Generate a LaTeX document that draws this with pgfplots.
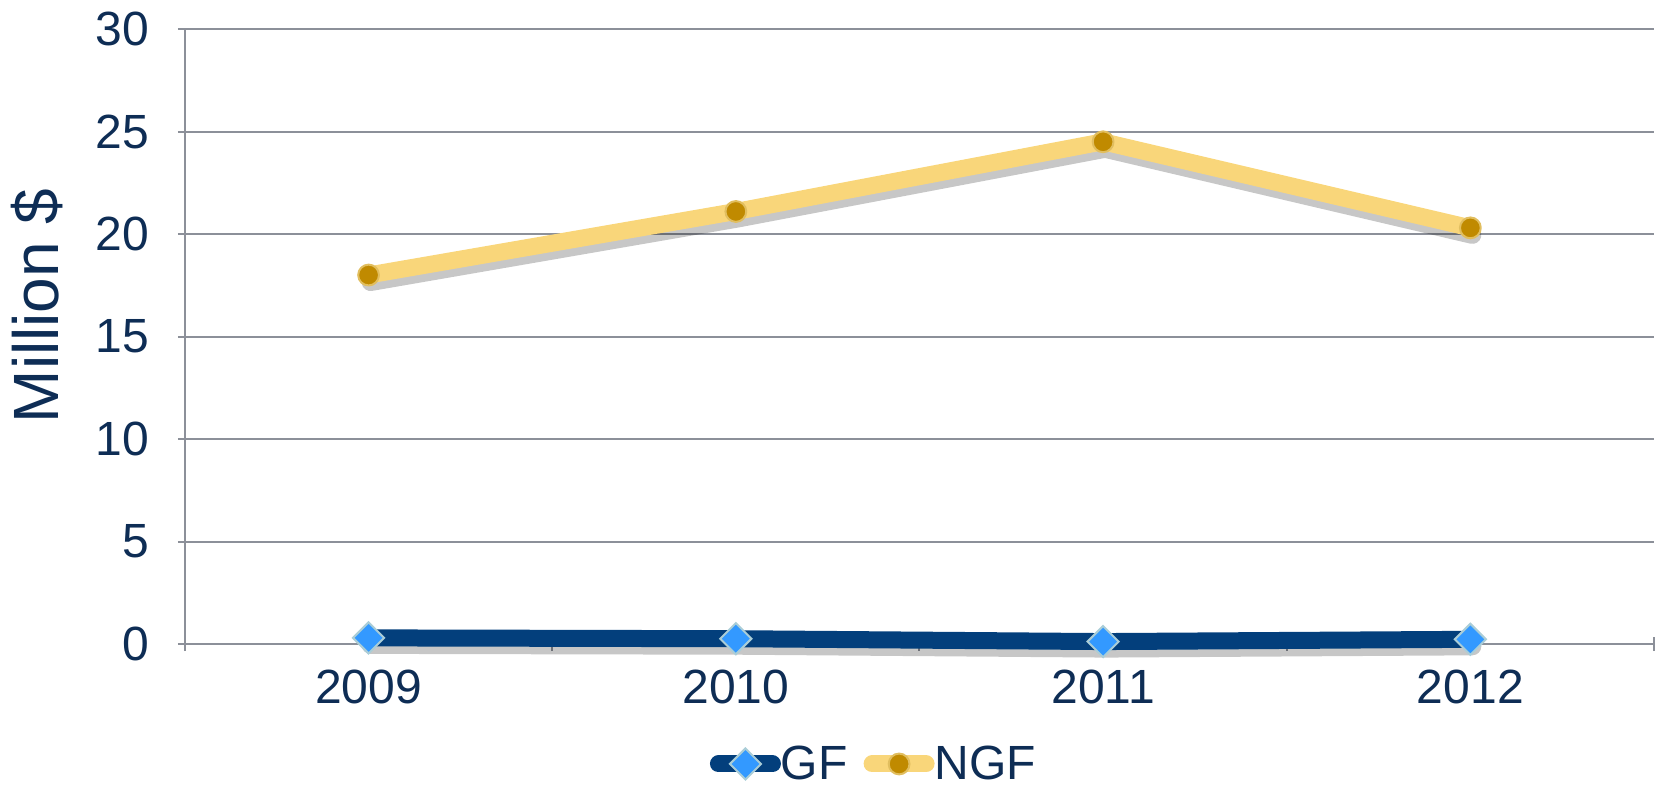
\documentclass[border=0pt]{standalone}
\usepackage{fontspec}
\setmainfont{Liberation Sans}
\usepackage{pgfplots}
\pgfplotsset{compat=1.18}

% colours
\definecolor{navytext}{RGB}{14,45,85}
\definecolor{gfline}{RGB}{3,63,124}
\definecolor{gfmark}{RGB}{51,153,255}
\definecolor{gfedge}{RGB}{170,205,215}
\definecolor{ngfline}{RGB}{249,214,122}
\definecolor{ngfmark}{RGB}{192,138,0}
\definecolor{ngfedge}{RGB}{225,190,95}
\definecolor{gridgray}{RGB}{140,144,153}

% NGF / GF in million $
\pgfplotstableread{
x gf ngf
0 0.30 18.0
1 0.26 21.1
2 0.12 24.5
3 0.23 20.3
}\fundtable

\begin{document}
\begin{tikzpicture}
\begin{axis}[
    scale only axis,
    width=734.5pt,
    height=307.5pt,
    xmin=-0.5, xmax=3.5,
    ymin=0, ymax=30,
    ytick={0,5,...,30},
    xtick={0,1,2,3},
    xticklabels={2009,2010,2011,2012},
    minor xtick={-0.5,0.5,1.5,2.5,3.5},
    major x tick style={draw=none},
    minor x tick style={draw=gridgray, line width=1pt},
    minor tick length=7pt,
    major tick length=7pt,
    tick align=outside,
    axis x line=bottom,
    axis y line=left,
    axis line style={draw=gridgray, line width=1pt, -},
    ytick style={draw=gridgray, line width=1pt},
    ymajorgrids,
    major grid style={draw=gridgray, line width=1pt},
    tick label style={font=\fontsize{24}{28}\selectfont, text=navytext},
    yticklabel style={xshift=-11pt},
    xticklabel style={yshift=-6pt},
    /pgf/number format/assume math mode=true,
    ylabel={Million \$},
    ylabel style={font=\fontsize{32}{36}\selectfont, text=navytext,
        at={(axis description cs:-0.1007,0.55)}, anchor=center},
    legend columns=2,
    legend style={draw=none, fill=none, font=\fontsize{24}{28}\selectfont,
        text=navytext, at={(axis description cs:0.4697,-0.195)}, anchor=center,
        /tikz/every even column/.append style={column sep=6pt},
        /tikz/every odd column/.append style={column sep=-2pt}},
    legend image code/.code={
        \draw[#1, line cap=round, mark repeat=2, mark phase=2]
            plot coordinates {(2pt,0pt) (15.5pt,0pt) (29pt,0pt)};
    },
    clip=false,
]
% soft shadows under the lines
\addplot[black, opacity=0.22, line width=9pt, line cap=round, line join=round,
    xshift=1pt, yshift=-3.5pt, forget plot]
    table[x=x, y=gf] {\fundtable};
\addplot[black, opacity=0.22, line width=9pt, line cap=round, line join=round,
    xshift=1pt, yshift=-3.5pt, forget plot]
    table[x=x, y=ngf] {\fundtable};

\addplot[gfline, line width=8.5pt, line cap=round,
    mark=square*, mark size=5.5pt,
    mark options={rotate=45, fill=gfmark, draw=gfedge, line width=1pt}]
    table[x=x, y=gf] {\fundtable};
\addlegendentry{GF}

\addplot[ngfline, line width=8.5pt, line cap=round, line join=round,
    mark=*, mark size=5.2pt,
    mark options={fill=ngfmark, draw=ngfedge, line width=1pt}]
    table[x=x, y=ngf] {\fundtable};
\addlegendentry{NGF}

% page size as in the reference
\path (rel axis cs:-0.1259,1.0472) (rel axis cs:1.0041,-0.2325);
\end{axis}
\end{tikzpicture}
\end{document}
